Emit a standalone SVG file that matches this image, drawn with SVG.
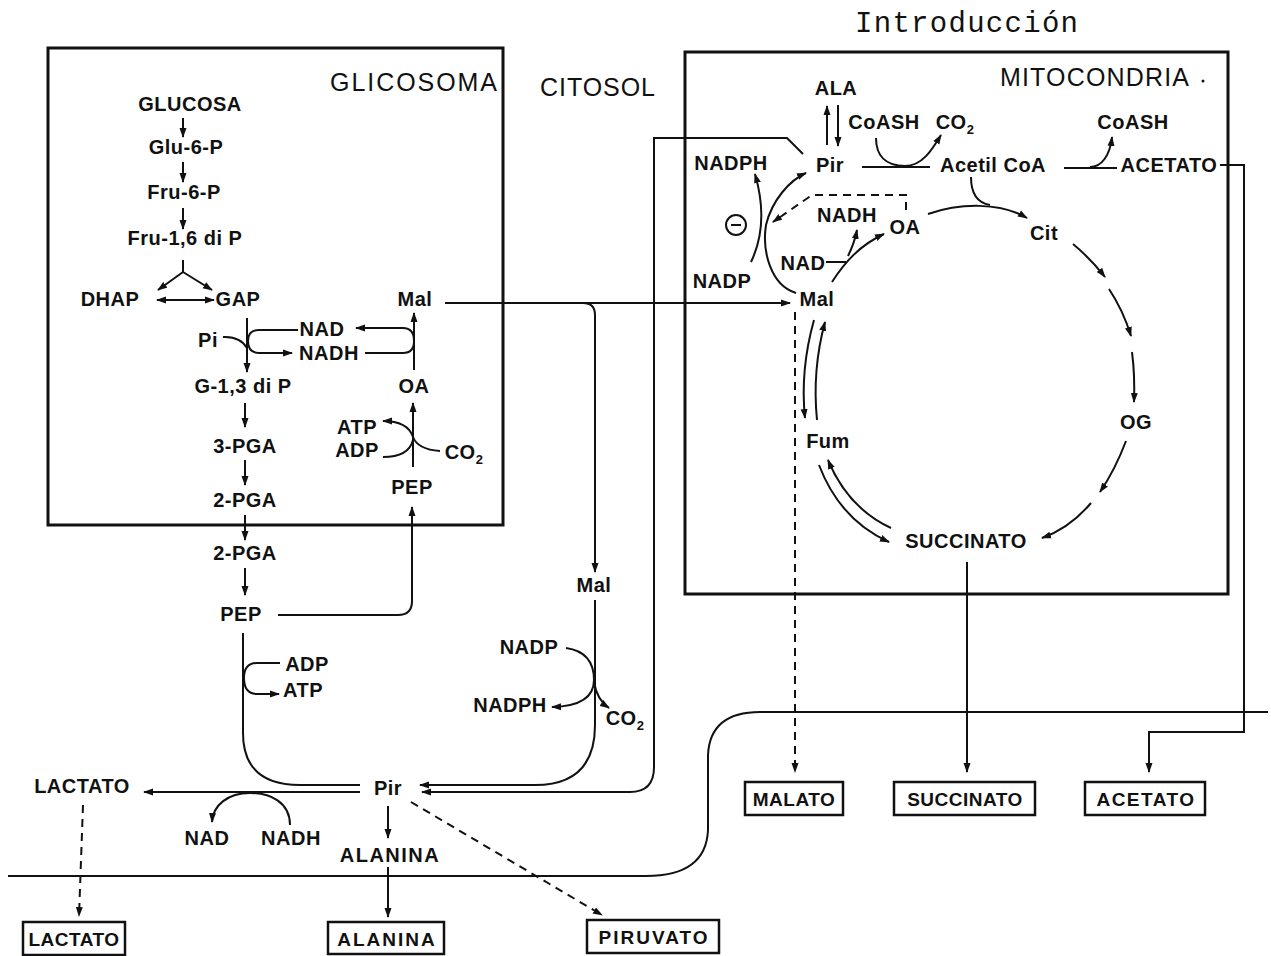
<svg xmlns="http://www.w3.org/2000/svg" width="1271" height="956" viewBox="0 0 1271 956">
<style>
.t{font-family:"Liberation Sans",Arial,sans-serif;font-weight:bold;font-size:20px;text-anchor:middle;fill:#111;letter-spacing:0.5px}
.bt{font-size:19px}
.ttl{font-family:"Liberation Sans",Arial,sans-serif;font-size:25px;fill:#111}
.sub{font-size:13px}
.ln{fill:none;stroke:#111;stroke-width:2}
.ar{marker-end:url(#ah)}
.ar2{marker-start:url(#ah);marker-end:url(#ah)}
.da{stroke-dasharray:8 6}
.box{fill:none;stroke:#111;stroke-width:2.5}
.cmp{fill:none;stroke:#111;stroke-width:3}
</style>
<defs>
<marker id="ah" viewBox="0 0 10 8" refX="9" refY="4" markerWidth="10" markerHeight="8" markerUnits="userSpaceOnUse" orient="auto-start-reverse">
<path d="M0,0.5 L10,4 L0,7.5 z" fill="#111"/>
</marker>
</defs>
<rect width="1271" height="956" fill="#fff"/>
<text x="855" y="32" font-family="Liberation Mono,monospace" font-size="29" fill="#111" textLength="223" lengthAdjust="spacing">Introducción</text>

<g id="glicosoma">
<rect class="cmp" x="48" y="48" width="455" height="477"/>
<text class="ttl" x="330" y="91" textLength="167" lengthAdjust="spacing">GLICOSOMA</text>
</g>
<g id="citosol"><text class="ttl" x="540" y="96" textLength="115" lengthAdjust="spacing">CITOSOL</text></g>
<g id="mitocondria">
<rect class="cmp" x="685" y="52" width="543" height="542"/>
<text class="ttl" x="1000" y="86" textLength="189" lengthAdjust="spacing">MITOCONDRIA</text>
<circle cx="1203" cy="81" r="1.5" fill="#111"/>
</g>

<g id="connectors">
<!-- glycosome -->
<path class="ln ar" d="M183 118 V137"/>
<path class="ln ar" d="M183 162 V182"/>
<path class="ln ar" d="M183 208 V229"/>
<path class="ln" d="M183 260 V272"/>
<path class="ln ar" d="M183 272 L158 290"/>
<path class="ln ar" d="M183 272 L212 290"/>
<path class="ln ar2" d="M157 300 H214"/>
<path class="ln ar" d="M247 318 V372"/>
<path class="ln ar" d="M298 330 H259 Q248 330 248 341 Q248 353 259 353 H292"/>
<path class="ln" d="M223 337 Q240 336 247 348"/>
<path class="ln ar" d="M245 403 V427"/>
<path class="ln ar" d="M245 460 V485"/>
<path class="ln ar" d="M245 515 V540"/>
<path class="ln ar" d="M245 568 V595"/>
<path class="ln ar" d="M414 370 V313"/>
<path class="ln ar" d="M365 353 H403 Q414 353 414 341 Q414 328 403 328 H356"/>
<path class="ln ar" d="M413 467 V403"/>
<path class="ln ar" d="M440 451 C425 450 416 445 413 437 C409 425 396 421 383 421"/>
<path class="ln" d="M383 457 C398 457 410 452 413 440"/>
<path class="ln ar" d="M278 615 H398 Q412 615 412 601 V507"/>
<path class="ln ar" d="M445 303 H583 Q595 303 595 315 V572"/>
<path class="ln ar" d="M583 303 H790"/>
<!-- cytosol -->
<path class="ln" d="M243 633 V733 Q243 785 300 785 H360"/>
<path class="ln ar" d="M280 663 H257 Q244 663 244 678 Q244 694 257 694 H279"/>
<path class="ln ar" d="M595 600 V725 Q595 785 535 785 H420"/>
<path class="ln ar" d="M566 648 Q594 652 594 680 Q594 706 552 707"/>
<path class="ln ar" d="M594 682 Q597 700 609 708"/>
<path class="ln ar" d="M803 154 L787 138 H654 V767 Q654 792 630 792 H422"/>
<path class="ln ar" d="M360 792 H144"/>
<path class="ln ar" d="M290 825 C290 802 270 793 250 793 C228 793 213 805 212 822"/>
<path class="ln ar" d="M388 806 V838"/>
<path class="ln ar" d="M388 867 V917"/>
<path class="ln da ar" d="M411 802 L602 915"/>
<path class="ln da ar" d="M83 805 L79 916"/>
<!-- mitochondria -->
<path class="ln ar" d="M827 145 V106"/>
<path class="ln ar" d="M838 105 V146"/>
<path class="ln" d="M862 167 H930"/>
<path class="ln ar" d="M876 138 C876 155 885 166 905 166 C922 166 932 150 941 135"/>
<path class="ln" d="M1064 168 H1117"/>
<path class="ln ar" d="M1090 167 C1102 167 1110 155 1112 137"/>
<path class="ln ar" d="M1220 165 H1244 V732 H1149 V772"/>
<path class="ln ar" d="M751 262 C764 235 764 205 755 174"/>
<path class="ln ar" d="M796 293 C770 285 762 250 766 225 C772 200 790 180 806 173"/>
<path class="ln da ar" d="M906 210 V195 H812 L773 222"/>
<path class="ln ar" d="M832 282 C845 262 860 245 884 234"/>
<path class="ln" d="M826 262 H846"/>
<path class="ln ar" d="M848 256 C852 248 855 240 857 230"/>
<path class="ln ar" d="M928 214 C960 203 1000 202 1027 218"/>
<path class="ln" d="M971 177 C971 195 978 203 990 205"/>
<path class="ln ar" d="M1073 244 Q1090 258 1105 277"/>
<path class="ln ar" d="M1109 289 Q1123 310 1131 336"/>
<path class="ln ar" d="M1132 352 Q1135 375 1134 402"/>
<path class="ln ar" d="M1126 441 Q1115 470 1100 492"/>
<path class="ln ar" d="M1091 503 Q1070 528 1042 538"/>
<path class="ln ar" d="M819 465 Q840 520 889 542"/>
<path class="ln ar" d="M891 528 Q848 508 828 460"/>
<path class="ln ar" d="M817 420 Q812 370 825 322"/>
<path class="ln ar" d="M814 320 Q800 370 805 418"/>
<path class="ln da ar" d="M795 312 V772"/>
<path class="ln ar" d="M967 562 V772"/>
<!-- membrane -->
<path class="ln" stroke-width="2.5" d="M8 876 H646 Q706 876 708 830 V755 Q710 712 760 712 H1268"/>
</g>

<g id="n-glucosa"><text class="t" x="190" y="111">GLUCOSA</text></g>
<g id="n-glu6p"><text class="t" x="186" y="154">Glu-6-P</text></g>
<g id="n-fru6p"><text class="t" x="184" y="199">Fru-6-P</text></g>
<g id="n-fru16p"><text class="t" x="185" y="245">Fru-1,6 di P</text></g>
<g id="n-dhap"><text class="t" x="110" y="306">DHAP</text></g>
<g id="n-gap"><text class="t" x="238" y="306">GAP</text></g>
<g id="n-mal-g"><text class="t" x="415" y="306">Mal</text></g>
<g id="n-pi"><text class="t" x="208" y="347">Pi</text></g>
<g id="n-nad-g"><text class="t" x="322" y="336">NAD</text></g>
<g id="n-nadh-g"><text class="t" x="329" y="360">NADH</text></g>
<g id="n-g13p"><text class="t" x="243" y="393">G-1,3 di P</text></g>
<g id="n-oa-g"><text class="t" x="414" y="393">OA</text></g>
<g id="n-atp-g"><text class="t" x="357" y="434">ATP</text></g>
<g id="n-adp-g"><text class="t" x="357" y="457">ADP</text></g>
<g id="n-co2-g"><text class="t" x="464" y="459">CO<tspan class="sub" dy="5">2</tspan></text></g>
<g id="n-3pga"><text class="t" x="245" y="453">3-PGA</text></g>
<g id="n-pep-g"><text class="t" x="412" y="494">PEP</text></g>
<g id="n-2pga-g"><text class="t" x="245" y="507">2-PGA</text></g>
<g id="n-2pga-c"><text class="t" x="245" y="560">2-PGA</text></g>
<g id="n-pep-c"><text class="t" x="241" y="621">PEP</text></g>
<g id="n-mal-c"><text class="t" x="594" y="592">Mal</text></g>
<g id="n-adp-c"><text class="t" x="307" y="671">ADP</text></g>
<g id="n-atp-c"><text class="t" x="303" y="697">ATP</text></g>
<g id="n-nadp-c"><text class="t" x="529" y="654">NADP</text></g>
<g id="n-nadph-c"><text class="t" x="510" y="712">NADPH</text></g>
<g id="n-co2-c"><text class="t" x="625" y="725">CO<tspan class="sub" dy="5">2</tspan></text></g>
<g id="n-lactato"><text class="t" x="82" y="793">LACTATO</text></g>
<g id="n-pir-c"><text class="t" x="388" y="795">Pir</text></g>
<g id="n-nad-c"><text class="t" x="207" y="845">NAD</text></g>
<g id="n-nadh-c"><text class="t" x="291" y="845">NADH</text></g>
<g id="n-alanina"><text class="t" x="390" y="862" style="letter-spacing:1.5px">ALANINA</text></g>

<g id="out-lactato"><rect class="box" x="23" y="922" width="102" height="33"/><text class="t bt" x="74" y="946">LACTATO</text></g>
<g id="out-alanina"><rect class="box" x="328" y="922" width="116" height="32"/><text class="t bt" x="387" y="946" style="letter-spacing:2px">ALANINA</text></g>
<g id="out-piruvato"><rect class="box" x="587" y="920" width="132" height="33"/><text class="t bt" x="654" y="944" style="letter-spacing:2px">PIRUVATO</text></g>
<g id="out-malato"><rect class="box" x="745" y="782" width="98" height="33"/><text class="t bt" x="794" y="806">MALATO</text></g>
<g id="out-succinato"><rect class="box" x="894" y="782" width="141" height="33"/><text class="t bt" x="965" y="806">SUCCINATO</text></g>
<g id="out-acetato"><rect class="box" x="1085" y="782" width="120" height="33"/><text class="t bt" x="1146" y="806" style="letter-spacing:1.5px">ACETATO</text></g>

<g id="n-ala"><text class="t" x="836" y="95">ALA</text></g>
<g id="n-coash1"><text class="t" x="884" y="129">CoASH</text></g>
<g id="n-co2-m"><text class="t" x="955" y="129">CO<tspan class="sub" dy="5">2</tspan></text></g>
<g id="n-coash2"><text class="t" x="1133" y="129">CoASH</text></g>
<g id="n-nadph-m"><text class="t" x="731" y="170">NADPH</text></g>
<g id="n-pir-m"><text class="t" x="830" y="172">Pir</text></g>
<g id="n-acetilcoa"><text class="t" x="993" y="172">Acetil CoA</text></g>
<g id="n-acetato-m"><text class="t" x="1169" y="172">ACETATO</text></g>
<g id="n-inhib"><circle cx="736" cy="225" r="10" class="ln"/><path class="ln" d="M731 225 H741"/></g>
<g id="n-nadh-m"><text class="t" x="847" y="222">NADH</text></g>
<g id="n-oa-m"><text class="t" x="905" y="234">OA</text></g>
<g id="n-cit"><text class="t" x="1044" y="240">Cit</text></g>
<g id="n-nad-m"><text class="t" x="803" y="270">NAD</text></g>
<g id="n-nadp-m"><text class="t" x="722" y="288">NADP</text></g>
<g id="n-mal-m"><text class="t" x="817" y="306">Mal</text></g>
<g id="n-og"><text class="t" x="1136" y="429">OG</text></g>
<g id="n-fum"><text class="t" x="828" y="448">Fum</text></g>
<g id="n-succinato"><text class="t" x="966" y="548">SUCCINATO</text></g>
</svg>
